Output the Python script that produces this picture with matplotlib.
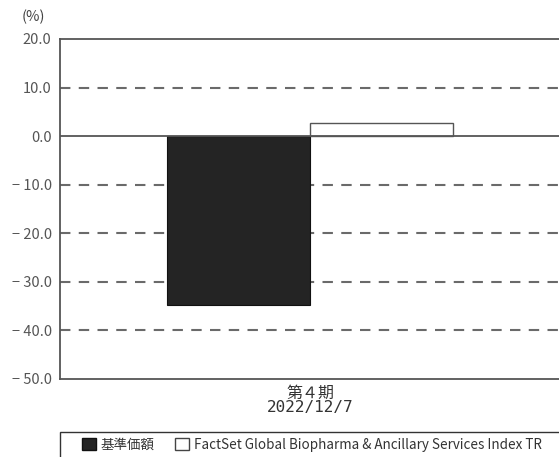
import matplotlib.pyplot as plt
from matplotlib.patches import Rectangle, Patch

plt.rcParams['font.family'] = ['Noto Sans CJK JP', 'DejaVu Sans']

categories = ['第４期\n2022/12/7']
series_names = ['基準価額', 'FactSet Global Biopharma & Ancillary Services Index TR']
fund_values = [-34.8]
index_values = [2.7]
yticks = [20, 10, 0, -10, -20, -30, -40, -50]

W, H = 559, 457
fig = plt.figure(figsize=(W / 100, H / 100), dpi=100)
ax = fig.add_axes([60 / W, 1 - 379 / H, 500 / W, 340 / H])

bw = 0.286
ax.bar([-bw / 2], fund_values, width=bw, color='#242424', edgecolor='#111111', linewidth=0.8, zorder=3)
ax.bar([bw / 2], index_values, width=bw, color='white', edgecolor='#555555', linewidth=1.0, zorder=3)

ax.set_xlim(-0.5, 0.5)
ax.set_ylim(-50, 20)
ax.set_yticks(yticks)
ax.set_yticklabels([('− ' if v < 0 else '') + f'{abs(v):.1f}' for v in yticks],
                   color='#555555', fontsize=10.5)
ax.set_xticks([0])
ax.set_xticklabels(categories, color='#333333', fontsize=11.5, linespacing=0.9,
                   family=['DejaVu Sans Mono', 'Noto Sans CJK JP'])
ax.tick_params(axis='both', length=0)
ax.tick_params(axis='y', pad=6)
ax.tick_params(axis='x', pad=5)

for v in [10, -10, -20, -30, -40]:
    ax.axhline(v, color='#6a6a6a', linewidth=1.5, dashes=(5, 4), zorder=1)
ax.axhline(0, color='#555555', linewidth=1.3, zorder=4)

for s in ['top', 'bottom', 'left']:
    ax.spines[s].set_color('#555555')
    ax.spines[s].set_linewidth(1.3)
ax.spines['right'].set_visible(False)

fig.text(22 / W, 1 - 17 / H, '(%)', fontsize=10.5, color='#444444', va='center', ha='left')

# legend box, cropped at bottom and right like the reference
fig.patches.append(Rectangle((60 / W, -0.05), 520 / W, 0.05 + (457 - 432) / H,
                             transform=fig.transFigure, facecolor='none',
                             edgecolor='#333333', linewidth=1.0))
handles = [Patch(facecolor='#242424', edgecolor='#111111'),
           Patch(facecolor='white', edgecolor='#444444')]
fig.legend(handles, series_names, loc='center', bbox_to_anchor=(312 / W, 1 - 445 / H),
           ncol=2, frameon=False, fontsize=9.7, handlelength=1.0, handleheight=1.0,
           handletextpad=0.4, columnspacing=1.5, labelcolor='#333333')

plt.savefig('out.png', dpi=100)
